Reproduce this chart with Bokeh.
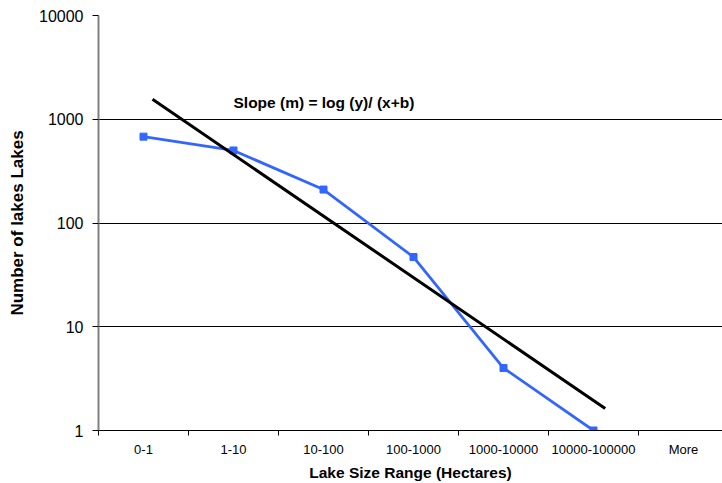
from bokeh.plotting import figure
from bokeh.models import FixedTicker, Range1d, NumeralTickFormatter, Label, ColumnDataSource
from bokeh.embed import file_html
from bokeh.resources import INLINE

# ---- data ----
categories = ["0-1", "1-10", "10-100", "100-1000", "1000-10000", "10000-100000", "More"]
lake_counts = [680, 500, 210, 47, 4, 1]
trend_cat = [0.1, 5.13]          # trend line ends, in category index units
trend_counts = [1555, 1.63]
y_ticks = [1, 10, 100, 1000, 10000]
note = "Slope (m) = log (y)/ (x+b)"

FONT = "Liberation Sans"

p = figure(width=722, height=483, y_axis_type="log",
           x_range=Range1d(0, 624 / 90), y_range=Range1d(1, 10000),
           output_backend="svg", toolbar_location=None,
           min_border_left=98, min_border_right=0, min_border_top=15, min_border_bottom=52)
p.outline_line_color = None
p.background_fill_color = "white"
p.border_fill_color = "white"

# series
src = ColumnDataSource(dict(x=[i + 0.5 for i in range(len(lake_counts))], y=lake_counts))
p.line("x", "y", source=src, line_color="#3366FF", line_width=2.8)
p.scatter("x", "y", source=src, marker="square", size=7, fill_color="#3366FF", line_color="#3366FF")

# trend line
p.line([c + 0.5 for c in trend_cat], trend_counts, line_color="black", line_width=3)

# annotation
p.add_layout(Label(x=1.5, y=1455, text=note, text_font=FONT, text_font_size="15.5px",
                   text_font_style="bold", text_baseline="alphabetic", text_color="black"))

# x axis
xt = FixedTicker(ticks=[i + 0.5 for i in range(len(categories))],
                 minor_ticks=list(range(len(categories) + 1)))
p.xaxis.ticker = xt
p.xaxis.major_label_overrides = {i + 0.5: c for i, c in enumerate(categories)}
p.xaxis.major_tick_out = 0
p.xaxis.major_tick_in = 0
p.xaxis.minor_tick_out = 5
p.xaxis.minor_tick_in = 0
p.xaxis.minor_tick_line_color = "black"
p.xaxis.axis_line_color = "black"
p.xaxis.major_label_text_font = FONT
p.xaxis.major_label_text_font_size = "13px"
p.xaxis.major_label_text_color = "black"
p.xaxis.major_label_standoff = 6
p.xaxis.axis_label = "Lake Size Range (Hectares)"
p.xaxis.axis_label_text_font = FONT
p.xaxis.axis_label_text_font_size = "15.5px"
p.xaxis.axis_label_text_font_style = "bold"
p.xaxis.axis_label_text_color = "black"
p.xaxis.axis_label_standoff = 4
p.xgrid.grid_line_color = None

# y axis
yt = FixedTicker(ticks=y_ticks, minor_ticks=[])
p.yaxis.ticker = yt
p.yaxis.formatter = NumeralTickFormatter(format="0")
p.yaxis.major_tick_out = 6
p.yaxis.major_tick_in = 0
p.yaxis.minor_tick_line_color = None
p.yaxis.axis_line_color = "#808080"
p.yaxis.axis_line_width = 2
p.yaxis.major_tick_line_color = "black"
p.yaxis.major_label_text_font = FONT
p.yaxis.major_label_text_font_size = "16px"
p.yaxis.major_label_text_color = "black"
p.yaxis.major_label_standoff = 9
p.yaxis.axis_label = "Number of lakes Lakes"
p.yaxis.axis_label_text_font = FONT
p.yaxis.axis_label_text_font_size = "17px"
p.yaxis.axis_label_text_font_style = "bold"
p.yaxis.axis_label_text_color = "black"
p.yaxis.axis_label_standoff = 9
p.ygrid.ticker = yt
p.ygrid.grid_line_color = "black"
p.ygrid.grid_line_width = 1
p.ygrid.grid_line_alpha = 1.0

open("out.html", "w").write(file_html(p, INLINE))
